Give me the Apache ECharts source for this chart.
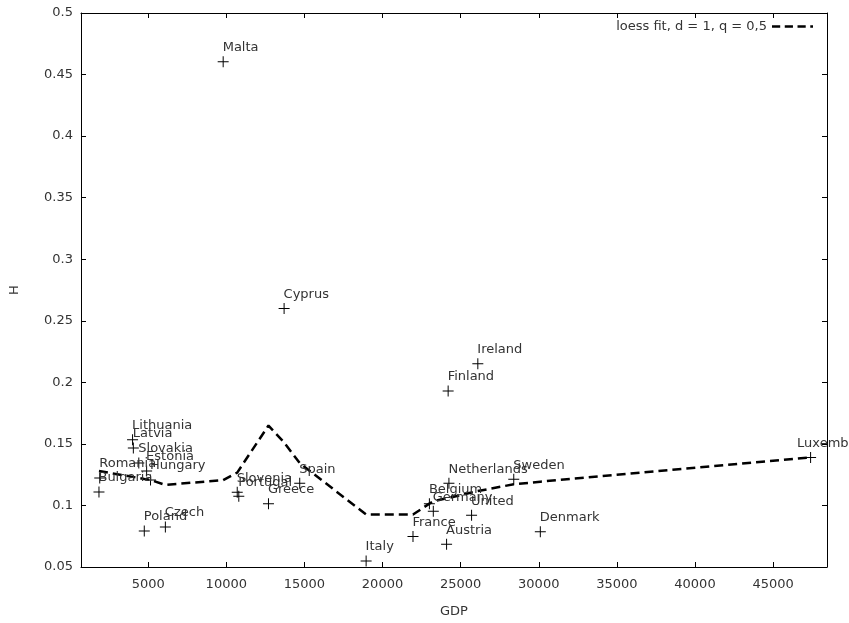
<!DOCTYPE html>
<html>
<head>
<meta charset="utf-8">
<script src="https://cdn.jsdelivr.net/npm/echarts@6/dist/echarts.min.js"></script>
<style>html,body{margin:0;padding:0;background:#fff}#c{width:849px;height:623px}</style>
</head>
<body>
<div id="c"></div>
<script>
var countries = ["Bulgaria","Romania","Lithuania","Latvia","Slovakia","Poland","Estonia","Hungary","Czech","Malta","Slovenia","Portugal","Greece","Cyprus","Spain","Italy","France","Belgium","Germany","Austria","Finland","Netherlands","United","Ireland","Sweden","Denmark","Luxembourg"];
var gdp = [1850,1900,4000,4050,4400,4750,4900,5150,6100,9800,10700,10800,12700,13700,14700,18950,21950,23000,23250,24100,24200,24250,25700,26100,28400,30100,47400];
var hVals = [0.111,0.1223,0.1534,0.1467,0.1344,0.0792,0.128,0.1207,0.0824,0.4604,0.1107,0.1074,0.1014,0.260,0.118,0.0548,0.0747,0.1014,0.0952,0.0685,0.193,0.118,0.092,0.215,0.1213,0.0787,0.139];
var loessH = [0.128,0.1275,0.1232,0.1231,0.1223,0.1215,0.1213,0.1207,0.1167,0.1205,0.1267,0.127,0.1649,0.1512,0.1344,0.0926,0.0926,0.1015,0.1033,0.1058,0.106,0.1062,0.1105,0.1117,0.1172,0.1193,0.139];
var xTicks = [5000,10000,15000,20000,25000,30000,35000,40000,45000];
var legendName = "loess fit, d = 1, q = 0,5";

var pts = countries.map(function(c,i){
  var p = {name:c, value:[gdp[i], hVals[i]]};
  if (c === 'Luxembourg') p.label = {position:[-8,-8.5]};
  return p;
});
var loess = gdp.map(function(g,i){ return [g, loessH[i]]; });

var chart = echarts.init(document.getElementById('c'));
var FONT = 'DejaVu Sans';
var TXT = '#333';
var plus = 'path://M0,4.55H10V5.45H0Z M4.55,0H5.45V10H4.55Z';
var dashIcon = 'path://M0,0H9V2.5H0Z M14,0H23V2.5H14Z M28,0H37V2.5H28Z M42,0H45V2.5H42Z';
chart.setOption({
  animation:false,
  backgroundColor:'#fff',
  grid:{left:77,right:22,top:13,bottom:50,show:false},
  legend:{
    show:true, right:31, top:15, align:'right', itemWidth:41, itemHeight:2.5, itemGap:0,
    icon:dashIcon,
    textStyle:{fontFamily:FONT,fontSize:13,color:TXT},
    data:[{name:legendName, icon:dashIcon, itemStyle:{color:'#000'}}]
  },
  xAxis:[{
    type:'value', min:700, max:48450, position:'bottom',
    name:'GDP', nameLocation:'middle', nameGap:38,
    nameTextStyle:{fontFamily:FONT,fontSize:13,color:TXT},
    axisLine:{show:true,onZero:false,lineStyle:{color:'#000',width:1}},
    axisTick:{show:true,inside:true,length:5,customValues:xTicks,lineStyle:{color:'#000'}},
    axisLabel:{show:true,customValues:xTicks,margin:11,fontFamily:FONT,fontSize:13,color:TXT,
      formatter:function(v){ return String(Math.round(v)); }},
    splitLine:{show:false}
  },{
    type:'value', min:700, max:48450, position:'top',
    axisLine:{show:true,onZero:false,lineStyle:{color:'#000',width:1}},
    axisTick:{show:true,inside:true,length:5,customValues:xTicks,lineStyle:{color:'#000'}},
    axisLabel:{show:false},
    splitLine:{show:false}
  }],
  yAxis:[{
    type:'value', min:0.05, max:0.5, interval:0.05, position:'left',
    name:'H', nameLocation:'middle', nameGap:60,
    nameTextStyle:{fontFamily:FONT,fontSize:13,color:TXT},
    axisLine:{show:true,onZero:false,lineStyle:{color:'#000',width:1}},
    axisTick:{show:true,inside:true,length:5,lineStyle:{color:'#000'}},
    axisLabel:{show:true,margin:8,fontFamily:FONT,fontSize:13,color:TXT,
      formatter:function(v){ return String(Math.round(v*100)/100); }},
    splitLine:{show:false}
  },{
    type:'value', min:0.05, max:0.5, interval:0.05, position:'right',
    axisLine:{show:true,onZero:false,lineStyle:{color:'#000',width:1}},
    axisTick:{show:true,inside:true,length:5,lineStyle:{color:'#000'}},
    axisLabel:{show:false},
    splitLine:{show:false}
  }],
  series:[{
    type:'scatter', xAxisIndex:0, yAxisIndex:0,
    symbol:plus, symbolSize:11, symbolKeepAspect:true,
    itemStyle:{color:'#000',opacity:1},
    label:{show:true, formatter:'{b}', position:[5,-8.5], align:'left', verticalAlign:'middle',
      fontFamily:FONT, fontSize:13, color:TXT},
    emphasis:{disabled:true},
    data:pts, z:3
  },{
    type:'line', name:legendName, xAxisIndex:0, yAxisIndex:0,
    data:loess, symbol:'none', showSymbol:false,
    lineStyle:{color:'#000',width:2.5,type:[9,5]},
    itemStyle:{color:'#000'},
    emphasis:{disabled:true},
    z:2
  }]
});
</script>
</body>
</html>
